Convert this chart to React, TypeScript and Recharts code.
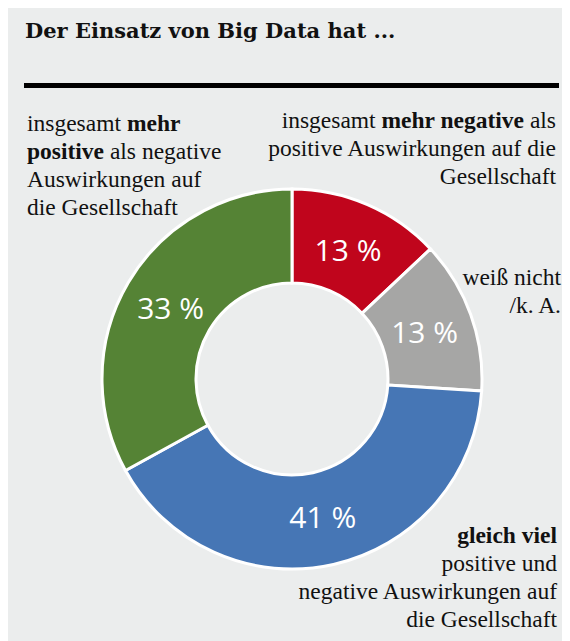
import { PieChart, Pie, Cell } from "recharts";

const categories = ["mehr negative", "weiß nicht / k. A.", "gleich viel", "mehr positive"];
const shares = [13, 13, 41, 33];
const colors = ["#c0051c", "#a6a6a5", "#4676b5", "#558335"];

const data = categories.map((name, i) => ({ name, value: shares[i] }));

const RAD = Math.PI / 180;
const serif = "'Liberation Serif', 'Times New Roman', serif";

const renderLabel = (p: any) => {
  const r = (p.innerRadius + p.outerRadius) / 2 - 2;
  const x = p.cx + r * Math.cos(-p.midAngle * RAD);
  const y = p.cy + r * Math.sin(-p.midAngle * RAD);
  return (
    <text x={x} y={y} fill="#fff" textAnchor="middle" dominantBaseline="central"
      style={{ fontFamily: "'Open Sans', sans-serif", fontSize: 30 }}>
      {p.value} %
    </text>
  );
};

const block: React.CSSProperties = {
  position: "absolute", fontFamily: serif, fontSize: 23.5, lineHeight: "28px", color: "#111",
};

export default function App() {
  return (
    <div style={{ position: "relative", width: 562, height: 633, background: "#ebeded", overflow: "hidden" }}>
      <div style={{ position: "absolute", left: 17, top: 9, fontFamily: "'DejaVu Serif', serif", fontWeight: 700, fontSize: 21, lineHeight: "28px", color: "#111" }}>
        Der Einsatz von Big Data hat ...
      </div>
      <div style={{ position: "absolute", left: 16, top: 75, width: 535, height: 5, background: "#000" }} />
      <div style={{ position: "absolute", left: 0, top: 0 }}>
        <PieChart width={562} height={633} margin={{ top: 0, right: 0, bottom: 0, left: 0 }}>
          <Pie data={data} dataKey="value" cx={284} cy={371} innerRadius={96} outerRadius={190}
            startAngle={90} endAngle={-270} stroke="#fff" strokeWidth={3}
            label={renderLabel} labelLine={false} isAnimationActive={false}>
            {data.map((d, i) => <Cell key={d.name} fill={colors[i]} />)}
          </Pie>
        </PieChart>
      </div>
      <div style={{ ...block, left: 19, top: 101 }}>
        insgesamt <b>mehr</b><br /><b>positive</b> als negative<br />Auswirkungen auf<br />die Gesellschaft
      </div>
      <div style={{ ...block, right: 14, top: 98, textAlign: "right" }}>
        insgesamt <b>mehr negative</b> als<br />positive Auswirkungen auf die<br />Gesellschaft
      </div>
      <div style={{ ...block, right: 9, top: 255, textAlign: "right" }}>
        weiß nicht<br />/k. A.
      </div>
      <div style={{ ...block, right: 13, top: 513, textAlign: "right" }}>
        <b>gleich viel</b><br />positive und<br />negative Auswirkungen auf<br />die Gesellschaft
      </div>
    </div>
  );
}
